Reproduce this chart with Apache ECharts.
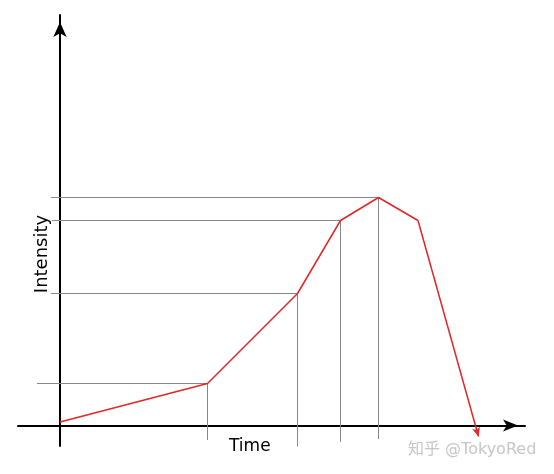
<!DOCTYPE html>
<html>
<head>
<meta charset="utf-8">
<script src="https://cdn.jsdelivr.net/npm/echarts@6/dist/echarts.min.js"></script>
<style>
html,body{margin:0;padding:0;background:#fff;}
#chart{width:554px;height:474px;}
</style>
</head>
<body>
<div id="chart"></div>
<script>
// Data (time, intensity)
const times = [0, 14.75, 23.75, 28.05, 31.85, 35.8, 41.85];
const intensity = [0.35, 4.2, 13.2, 20.5, 22.8, 20.5, -1.1];
// Guide lines: which points get helper lines, and where they start/end
const guideIndex = [1, 2, 3, 4];
const guideStartTime = [-2.3, -0.9, -0.8, -0.9];
const guideEndIntensity = [-1.45, -2.1, -1.65, -1.35];
const xName = 'Time';
const yName = 'Intensity';
const watermark = '知乎 @TokyoRed';

const chart = echarts.init(document.getElementById('chart'), null, {renderer: 'canvas'});

const guideSeries = guideIndex.map(function (idx, k) {
  return {
    type: 'line',
    data: [[guideStartTime[k], intensity[idx]], [times[idx], intensity[idx]], [times[idx], guideEndIntensity[k]]],
    symbol: 'none',
    silent: true,
    clip: false,
    z: 1,
    lineStyle: {color: '#888888', width: 1}
  };
});

const mainData = times.slice(0, times.length - 1).map(function (t, i) { return [t, intensity[i]]; });
const last = times.length - 1;

const option = {
  animation: false,
  backgroundColor: '#ffffff',
  grid: {left: 18, right: 29, top: 15, bottom: 28, containLabel: false},
  xAxis: {
    type: 'value', min: -4.2, max: 46.5,
    axisLine: {show: true, onZero: true, symbol: ['none', 'arrow'], symbolSize: [9, 15], symbolOffset: [0, -7],
      lineStyle: {color: '#000', width: 2}},
    axisTick: {show: false}, axisLabel: {show: false}, splitLine: {show: false}
  },
  yAxis: {
    type: 'value', min: -2.05, max: 41.05,
    axisLine: {show: true, onZero: true, symbol: ['none', 'arrow'], symbolSize: [10, 15], symbolOffset: [0, -7],
      lineStyle: {color: '#000', width: 2}},
    axisTick: {show: false}, axisLabel: {show: false}, splitLine: {show: false}
  },
  series: guideSeries.concat([{
    type: 'line',
    data: mainData,
    symbol: 'none',
    silent: true,
    clip: false,
    z: 3,
    lineStyle: {color: '#e02626', width: 1.5},
    markLine: {
      silent: true,
      animation: false,
      symbol: ['none', 'arrow'],
      symbolSize: [6, 9],
      label: {show: false},
      lineStyle: {color: '#e02626', width: 1.5, type: 'solid'},
      data: [[{coord: [times[last - 1], intensity[last - 1]]}, {coord: [times[last], intensity[last]]}]]
    }
  }]),
  graphic: [
    {type: 'text', left: 229, top: 438, z: 10,
      style: {text: xName, fontFamily: 'DejaVu Sans', fontSize: 17, fill: '#000'}},
    {type: 'text', x: 42, y: 254, rotation: Math.PI / 2, z: 10,
      style: {text: yName, fontFamily: 'DejaVu Sans', fontSize: 18, fill: '#000', align: 'center', verticalAlign: 'middle'}},
    {type: 'text', left: 408, top: 442, z: 10,
      style: {text: watermark, fontFamily: 'DejaVu Sans, Noto Sans CJK SC', fontSize: 16, fill: '#c6c6c6'}}
  ]
};
chart.setOption(option);
</script>
</body>
</html>
